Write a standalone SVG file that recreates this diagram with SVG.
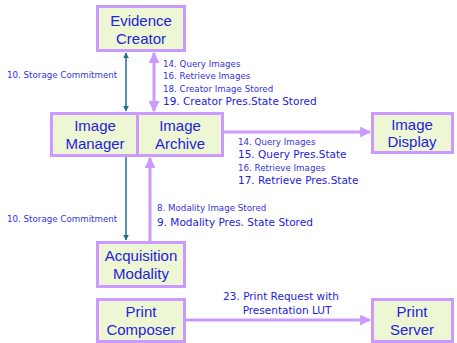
<svg xmlns="http://www.w3.org/2000/svg" width="457" height="343" viewBox="0 0 457 343">
  <style>
    .box { fill: #eef7d3; stroke: #cc99ff; stroke-width: 3; }
    .node { font-family: "Liberation Sans", Arial, sans-serif; font-size: 15px; fill: #2222dd; text-anchor: middle; }
    .lbl { font-family: "DejaVu Sans", Verdana, sans-serif; font-size: 8.7px; fill: #3333dd; }
    .lbl-l { font-family: "DejaVu Sans", Verdana, sans-serif; font-size: 10.5px; fill: #2222dd; }
    .teal { stroke: #1f6f94; stroke-width: 1.5; fill: none; }
    .lilac { stroke: #cc99ff; stroke-width: 3; fill: none; }
  </style>
  <defs>
    <marker id="ah-teal" viewBox="0 0 10 10" refX="9" refY="5" markerWidth="6" markerHeight="6" orient="auto-start-reverse" markerUnits="userSpaceOnUse">
      <path d="M0,0 L10,5 L0,10 z" fill="#1f6f94"/>
    </marker>
    <marker id="ah-lilac" viewBox="0 0 10 10" refX="9" refY="5" markerWidth="11" markerHeight="11" orient="auto-start-reverse" markerUnits="userSpaceOnUse">
      <path d="M0,0 L10,5 L0,10 z" fill="#cc99ff"/>
    </marker>
  </defs>

  <g id="connectors">
    <!-- Evidence Creator <-> Image Manager -->
    <line class="teal" x1="126" y1="53" x2="126" y2="111" marker-start="url(#ah-teal)" marker-end="url(#ah-teal)"/>
    <!-- Evidence Creator <-> Image Archive -->
    <line class="lilac" x1="154" y1="53" x2="154" y2="111" marker-start="url(#ah-lilac)" marker-end="url(#ah-lilac)"/>
    <!-- Image Archive -> Image Display -->
    <polyline class="lilac" points="223,132 370,132" marker-end="url(#ah-lilac)"/>
    <!-- Image Manager -> Acquisition Modality -->
    <line class="teal" x1="126" y1="157" x2="126" y2="240" marker-end="url(#ah-teal)"/>
    <!-- Acquisition Modality -> Image Archive -->
    <line class="lilac" x1="150" y1="241" x2="150" y2="158" marker-end="url(#ah-lilac)"/>
    <!-- Print Composer -> Print Server -->
    <line class="lilac" x1="185" y1="320" x2="370" y2="320" marker-end="url(#ah-lilac)"/>

    <text class="lbl" x="7" y="78">10. Storage Commitment</text>
    <text class="lbl" x="163" y="67">14. Query Images</text>
    <text class="lbl" x="163" y="79">16. Retrieve Images</text>
    <text class="lbl" x="163" y="92">18. Creator Image Stored</text>
    <text class="lbl-l" x="163" y="105">19. Creator Pres.State Stored</text>

    <text class="lbl" x="238" y="145">14. Query Images</text>
    <text class="lbl-l" x="238" y="158">15. Query Pres.State</text>
    <text class="lbl" x="238" y="171">16. Retrieve Images</text>
    <text class="lbl-l" x="238" y="184">17. Retrieve Pres.State</text>

    <text class="lbl" x="7" y="222">10. Storage Commitment</text>
    <text class="lbl" x="157" y="211">8. Modality Image Stored</text>
    <text class="lbl-l" x="157" y="226">9. Modality Pres. State Stored</text>

    <text class="lbl-l" x="281" y="300" text-anchor="middle">23. Print Request with</text>
    <text class="lbl-l" x="287" y="314" text-anchor="middle">Presentation LUT</text>
  </g>

  <g id="evidence-creator">
    <rect class="box" x="97.5" y="6.5" width="87" height="44"/>
    <text class="node" x="141" y="26">Evidence</text>
    <text class="node" x="141" y="44">Creator</text>
  </g>

  <g id="image-manager">
    <rect class="box" x="51.5" y="113.5" width="86" height="42"/>
    <text class="node" x="95" y="131">Image</text>
    <text class="node" x="95" y="149">Manager</text>
  </g>

  <g id="image-archive">
    <rect class="box" x="137.5" y="113.5" width="85" height="42"/>
    <text class="node" x="180" y="131">Image</text>
    <text class="node" x="180" y="149">Archive</text>
  </g>

  <g id="image-display">
    <rect class="box" x="372.5" y="113.5" width="80" height="39"/>
    <text class="node" x="412" y="130">Image</text>
    <text class="node" x="412" y="147">Display</text>
  </g>

  <g id="acquisition-modality">
    <rect class="box" x="97.5" y="242.5" width="87" height="44"/>
    <text class="node" x="141" y="261">Acquisition</text>
    <text class="node" x="141" y="279">Modality</text>
  </g>

  <g id="print-composer">
    <rect class="box" x="97.5" y="299.5" width="87" height="42"/>
    <text class="node" x="141" y="317">Print</text>
    <text class="node" x="141" y="335">Composer</text>
  </g>

  <g id="print-server">
    <rect class="box" x="372.5" y="299.5" width="80" height="42"/>
    <text class="node" x="412" y="317">Print</text>
    <text class="node" x="412" y="335">Server</text>
  </g>
</svg>
